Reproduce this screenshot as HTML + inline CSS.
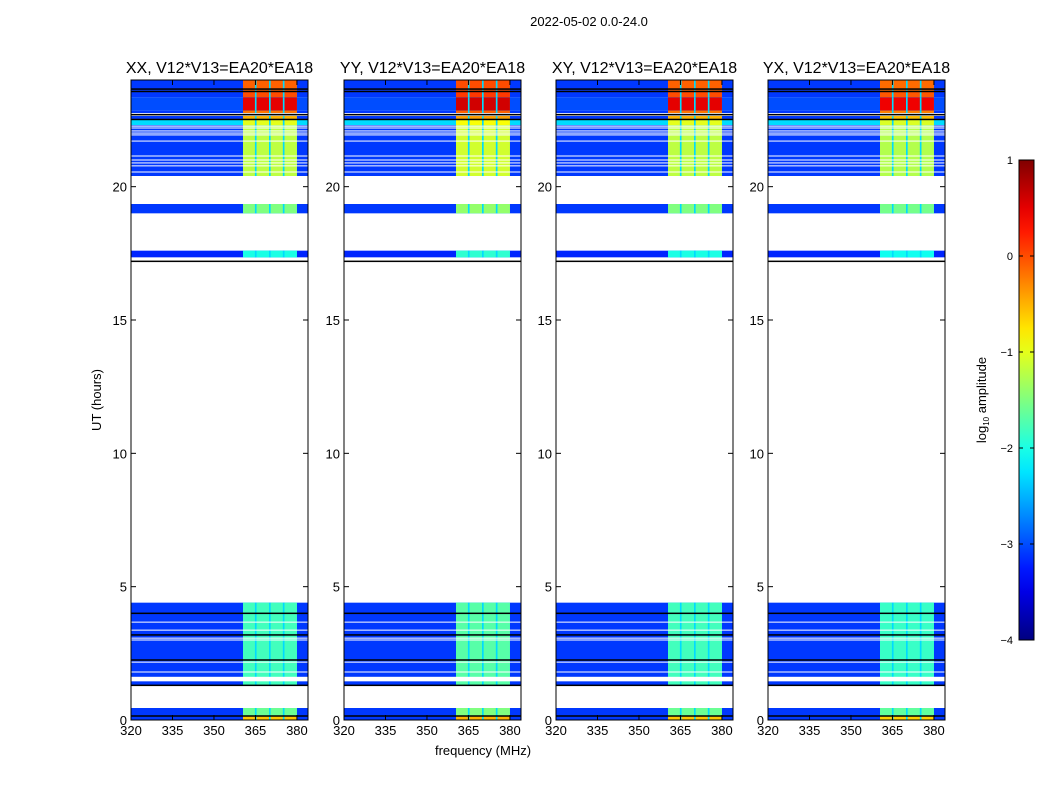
<!DOCTYPE html>
<html><head><meta charset="utf-8"><style>
body{margin:0;background:#fff;}
svg{display:block;font-family:"Liberation Sans",sans-serif;}
</style></head><body>
<svg id="fig" width="1050" height="800" viewBox="0 0 1050 800">
<text x="589" y="26" font-size="13" text-anchor="middle">2022-05-02 0.0-24.0</text>
<text x="483" y="755" font-size="13" text-anchor="middle">frequency (MHz)</text>
<text transform="translate(101,400) rotate(-90)" font-size="13" text-anchor="middle">UT (hours)</text>
<g id="panels"></g>
<g id="cbar"></g>
</svg>
<script>
// ---- data ----
const panelTitles = ["XX, V12*V13=EA20*EA18","YY, V12*V13=EA20*EA18","XY, V12*V13=EA20*EA18","YX, V12*V13=EA20*EA18"];
const panelGain = [0, 0.1, 0, -0.05];
// time segments (hours): start, end, background log-amp, band log-amp
const segStart = [23.59, 23.35, 22.85, 22.76, 22.54, 22.31, 20.40, 19.00, 17.35, 1.30, 0.15, 0.00];
const segEnd   = [24.00, 23.55, 23.35, 22.85, 22.65, 22.50, 22.31, 19.35, 17.60, 4.40, 0.45, 0.15];
const segBg    = [-3.1, -3.1, -3.0, -3.1, -3.1, -2.3, -3.1, -3.1, -3.2, -3.1, -3.1, -3.1];
const segBand  = [-0.1, 0.0, 0.5, -0.2, -0.5, -1.0, -1.2, -1.5, -2.0, -1.8, -1.6, -0.6];
// white (flagged) lines and black lines (hours)
const whiteLines = [22.27, 22.2, 22.09, 22.01, 21.94, 21.71, 21.15, 21.0, 20.89, 20.78, 20.55, 3.67, 3.37, 3.07, 3.0, 2.17, 1.8];
const whiteBlocks = [[1.45, 1.62]];
const blackLines = [23.66, 23.57, 22.70, 22.52, 17.2, 4.0, 3.19, 2.25, 1.3, 0.15];
// sub-band frequency edges (MHz)
const bandLo = [360.5, 365.4, 370.5, 375.5];
const bandHi = [364.8, 369.9, 374.9, 380.0];
const gapLevel = -2.3;
const xTicks = [320, 335, 350, 365, 380];
const yTicks = [0, 5, 10, 15, 20];
const cbTicks = [1, 0, -1, -2, -3, -4];

const NS = "http://www.w3.org/2000/svg";
function mk(tag, attrs, parent){const e=document.createElementNS(NS,tag);for(const k in attrs)e.setAttribute(k,attrs[k]);parent.appendChild(e);return e;}
function jet(v){
  const r=Math.min(Math.max(Math.min(4*v-1.5,-4*v+4.5),0),1);
  const g=Math.min(Math.max(Math.min(4*v-0.5,-4*v+3.5),0),1);
  const b=Math.min(Math.max(Math.min(4*v+0.5,-4*v+2.5),0),1);
  return `rgb(${Math.round(r*255)},${Math.round(g*255)},${Math.round(b*255)})`;
}
function cmap(l){return jet(Math.min(Math.max((l+4)/5,0),1));}

const panelX = [131, 344, 556, 768];
const PW = 177, PT = 80, PB = 720;
const fMin = 320, fMax = 384;
const panels = document.getElementById('panels');
panelTitles.forEach((t, p) => {
  const x0 = panelX[p];
  const xs = f => x0 + (f - fMin) / (fMax - fMin) * PW;
  const ys = h => PB - h / 24 * (PB - PT);
  const g = mk('g', {}, panels);
  
  
  segStart.forEach((s, i) => {
    const y1 = ys(segEnd[i]), y2 = ys(s);
    const r = mk('rect', {x:x0, y:y1, width:PW, height:y2-y1, fill:cmap(segBg[i])}, g);
    
    
    const gp = mk('rect', {x:xs(bandLo[0]), y:y1, width:xs(bandHi[bandHi.length-1])-xs(bandLo[0]), height:y2-y1, fill:cmap(Math.max(segBg[i], Math.min(gapLevel, segBand[i])))}, g);
    
    
    bandLo.forEach((lo, j) => {
      const c = mk('rect', {x:xs(lo), y:y1, width:xs(bandHi[j])-xs(lo), height:y2-y1, fill:cmap(segBand[i]+panelGain[p])}, g);
      
      
    });
  });
  whiteLines.forEach(h => { mk('rect', {x:x0, y:ys(h)-0.5, width:PW, height:1, fill:'#fff'}, g); });
  whiteBlocks.forEach(b => { mk('rect', {x:x0, y:ys(b[1]), width:PW, height:ys(b[0])-ys(b[1]), fill:'#fff'}, g); });
  blackLines.forEach(h => { mk('rect', {x:x0, y:ys(h)-0.75, width:PW, height:1.5, fill:'#000'}, g); });
  const fr = mk('rect', {x:x0, y:PT, width:PW, height:PB-PT, fill:'none', stroke:'#000', 'stroke-width':1}, g);
  
  
  xTicks.forEach(f => {
    const x = xs(f);
    mk('line', {x1:x, x2:x, y1:PB, y2:PB-5, stroke:'#000'}, g);
    mk('line', {x1:x, x2:x, y1:PT, y2:PT+5, stroke:'#000'}, g);
    const tl = mk('text', {x:x, y:PB+15, 'font-size':13, 'text-anchor':'middle'}, g);
    tl.textContent = f;
    
    
  });
  yTicks.forEach(h => {
    const y = ys(h);
    mk('line', {x1:x0, x2:x0+5, y1:y, y2:y, stroke:'#000'}, g);
    mk('line', {x1:x0+PW, x2:x0+PW-5, y1:y, y2:y, stroke:'#000'}, g);
    const tl = mk('text', {x:x0-4, y:y+5, 'font-size':13, 'text-anchor':'end'}, g);
    tl.textContent = h;
    
    
  });
  const tt = mk('text', {x:x0+PW/2, y:73, 'font-size':16, 'text-anchor':'middle'}, g);
  tt.textContent = t;
  
  
});

// colorbar
const cb = document.getElementById('cbar');
const CX = 1019, CW = 15, CT = 160, CB = 640;
const defs = mk('defs', {}, cb);
const lg = mk('linearGradient', {id:'jetg', x1:0, y1:1, x2:0, y2:0}, defs);
for (let i = 0; i <= 20; i++) mk('stop', {offset:(i/20), 'stop-color':jet(i/20)}, lg);
mk('rect', {x:CX, y:CT, width:CW, height:CB-CT, fill:'url(#jetg)', stroke:'#000', 'stroke-width':1}, cb);
cbTicks.forEach(v => {
  const y = CB - (v + 4) / 5 * (CB - CT);
  mk('line', {x1:CX, x2:CX+4, y1:y, y2:y, stroke:'#000'}, cb);
  mk('line', {x1:CX+CW, x2:CX+CW-4, y1:y, y2:y, stroke:'#000'}, cb);
  const tl = mk('text', {x:1013, y:y+4, 'font-size':11, 'text-anchor':'end'}, cb);
  tl.textContent = v < 0 ? '\u2212' + (-v) : v;
  
  
});
const cl = mk('text', {transform:'translate(986,400) rotate(-90)', 'font-size':13, 'text-anchor':'middle'}, cb);
cl.innerHTML = 'log<tspan font-size="8" dy="3">10</tspan><tspan dy="-3"> amplitude</tspan>';


</script>
</body></html>
